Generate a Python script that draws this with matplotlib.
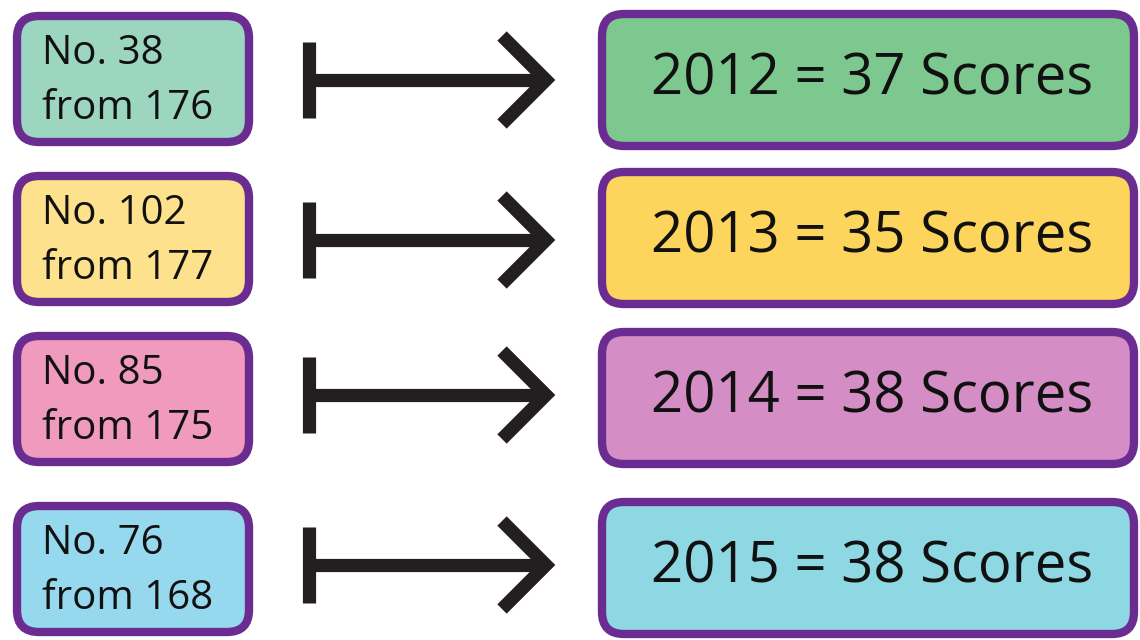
import matplotlib.pyplot as plt
from matplotlib.patches import FancyBboxPatch

ranks = [38, 102, 85, 76]
totals = [176, 177, 175, 168]
years = [2012, 2013, 2014, 2015]
scores = [37, 35, 38, 38]

left_colors = ['#9dd6c0', '#fde18c', '#f09bbd', '#96d9ee']
right_colors = ['#7dc88e', '#fdd55c', '#d48ec5', '#8ed8e3']
border = '#6a2c91'

# layout (pixels, y down)
left_tops = [12, 172, 332, 502]
right_tops = [12, 170, 330, 500]
arrow_y = [80, 240, 395, 565]

plt.rcParams['font.family'] = ['Open Sans', 'DejaVu Sans']

fig = plt.figure(figsize=(11.4, 6.4), dpi=100)
ax = fig.add_axes([0, 0, 1, 1])
ax.set_xlim(0, 1140)
ax.set_ylim(640, 0)
ax.axis('off')

for i in range(4):
    t = left_tops[i]
    ax.add_patch(FancyBboxPatch((17, t + 4), 232, 126,
                                boxstyle='round,pad=0,rounding_size=22',
                                fc=left_colors[i], ec=border, lw=6))
    ax.text(42, t + 42, f'No. {ranks[i]}', fontsize=29, va='center', ha='left', color='#111111')
    ax.text(42, t + 97, f'from {totals[i]}', fontsize=29, va='center', ha='left', color='#111111')

    t = right_tops[i]
    ax.add_patch(FancyBboxPatch((602, t + 2), 532, 132,
                                boxstyle='round,pad=0,rounding_size=22',
                                fc=right_colors[i], ec=border, lw=6))
    ax.text(872, t + 68, f'{years[i]} = {scores[i]} Scores', fontsize=40.5,
            va='center', ha='center', color='#111111')

    y = arrow_y[i]
    ax.plot([309, 309], [y - 38, y + 38], color='#231f20', lw=9.5, solid_capstyle='butt')
    ax.plot([309, 544], [y, y], color='#231f20', lw=9.5, solid_capstyle='butt')
    ax.plot([502, 546, 502], [y - 44, y, y + 44], color='#231f20', lw=9.5,
            solid_capstyle='butt', solid_joinstyle='miter')

fig.savefig('out.png', dpi=100)
